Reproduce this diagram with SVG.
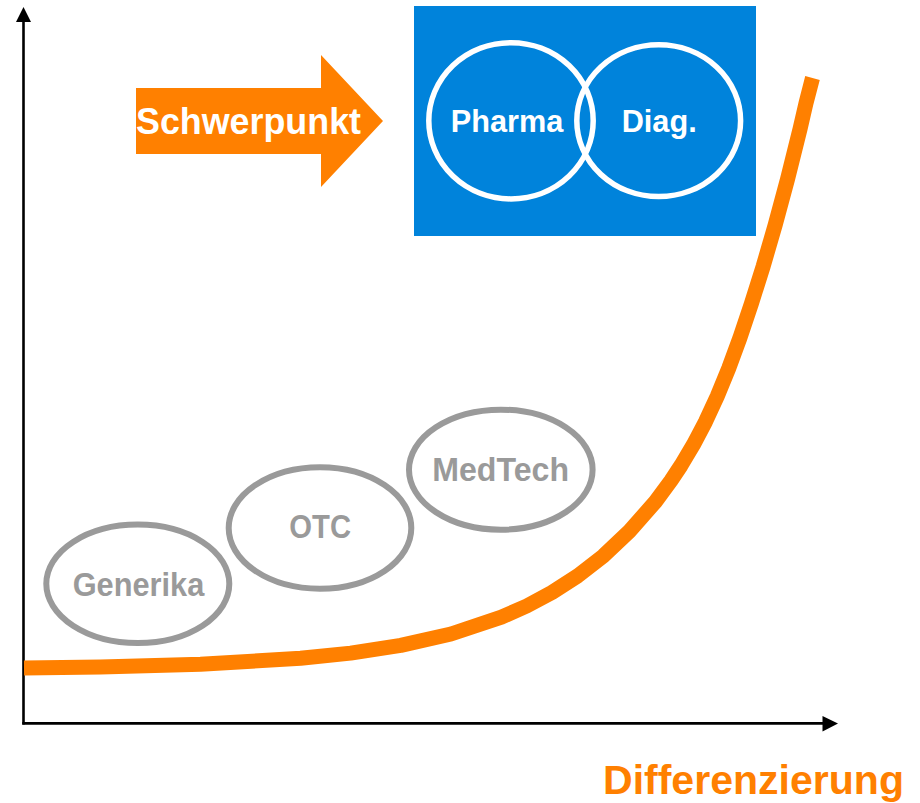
<svg xmlns="http://www.w3.org/2000/svg" width="920" height="803" viewBox="0 0 920 803">
<style>
.axis{stroke:#000;stroke-width:2.6;fill:none}
.head{fill:#000}
.curve{stroke:#FF8000;stroke-width:15;fill:none;stroke-linecap:butt;stroke-linejoin:round}
.ring{fill:none;stroke:#9A9A9A;stroke-width:6}
.glabel{font-family:"Liberation Sans",Arial,sans-serif;font-weight:bold;font-size:33px;fill:#9A9A9A}
.wring{fill:none;stroke:#fff;stroke-width:5.5}
.wlabel{font-family:"Liberation Sans",Arial,sans-serif;font-weight:bold;font-size:32px;fill:#fff}
</style>
<rect width="920" height="803" fill="#fff"/>
<g id="connectors">
<line class="axis" x1="23.5" y1="724.5" x2="23.5" y2="20"/>
<polygon class="head" points="23.5,7 31,22 16,22"/>
<line class="axis" x1="22.3" y1="723.4" x2="824" y2="723.4"/>
<polygon class="head" points="838,723.5 822.5,716 822.5,731.5"/>
<path id="curve" class="curve" d="M24,668 L100.5,667 L200.5,664.3 L300.6,658.3 L350.7,653.1 L400.8,645.4 L451,634 L501.4,617.2 L526.7,606 L552.1,592.4 L577.7,575.9 L603.5,555.8 L629.4,531.3 L655.4,501.7 L670.8,480.9 L681,465.5 L693.4,444.7 L705.5,421.7 L717.2,396.3 L728.7,368.4 L740,337.6 L751.4,303.6 L763.2,266.2 L775.2,224.9 L787.5,179.2 L800,129.1 L806,103.1 L812.5,78"/>
</g>
<g id="schwerpunkt">
<polygon fill="#FF8000" points="136,88 321,88 321,55 383,121 321,187 321,154 136,154"/>
<text x="136" y="134" font-family="'Liberation Sans',Arial,sans-serif" font-weight="bold" font-size="36" fill="#fff" textLength="225" lengthAdjust="spacingAndGlyphs">Schwerpunkt</text>
</g>
<g id="focus-box">
<rect x="414" y="6" width="342" height="230" fill="#0083DB"/>
</g>
<g id="pharma">
<ellipse class="wring" cx="511" cy="120.8" rx="82.2" ry="78.1"/>
<text class="wlabel" x="450.7" y="132.3" textLength="112.6" lengthAdjust="spacingAndGlyphs">Pharma</text>
</g>
<g id="diag">
<ellipse class="wring" cx="658.7" cy="120.7" rx="81.9" ry="75.9"/>
<text class="wlabel" x="621.7" y="132.3" textLength="75" lengthAdjust="spacingAndGlyphs">Diag.</text>
</g>
<g id="generika">
<ellipse class="ring" cx="137.8" cy="583.8" rx="91.5" ry="59.2"/>
<text class="glabel" x="72.7" y="596" textLength="131.6" lengthAdjust="spacingAndGlyphs">Generika</text>
</g>
<g id="otc">
<ellipse class="ring" cx="320" cy="528" rx="91.3" ry="60.7"/>
<text class="glabel" x="289.3" y="538.3" textLength="61.7" lengthAdjust="spacingAndGlyphs">OTC</text>
</g>
<g id="medtech">
<ellipse class="ring" cx="500.8" cy="469.7" rx="91.8" ry="60"/>
<text class="glabel" x="432.3" y="481" textLength="136.7" lengthAdjust="spacingAndGlyphs">MedTech</text>
</g>
<g id="x-label">
<text x="603" y="794" font-family="'Liberation Sans',Arial,sans-serif" font-weight="bold" font-size="41" fill="#FF8000" textLength="301" lengthAdjust="spacingAndGlyphs">Differenzierung</text>
</g>
</svg>
